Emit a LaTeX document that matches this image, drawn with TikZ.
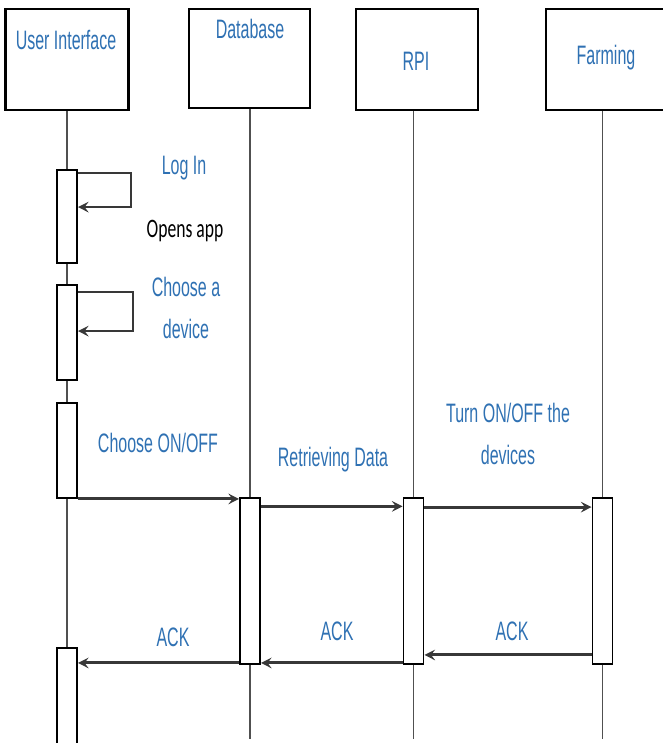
\documentclass[tikz,border=0pt]{standalone}
\usepackage{fontspec}
\setmainfont{Liberation Sans}[FakeStretch=0.6]
\newfontfamily\appfont{Carlito}[FakeStretch=0.66]
\usetikzlibrary{arrows.meta}

\definecolor{lblblue}{HTML}{2F71B3}
\definecolor{msggray}{HTML}{383838}
\definecolor{lifegray}{HTML}{505050}

\tikzset{
  headbox/.style={draw=black, line width=1.6pt, fill=white, inner sep=0pt},
  bar/.style={draw=black, line width=1.4pt, fill=white, minimum width=15pt, inner sep=0pt},
  life/.style={lifegray, line width=1.3pt},
  msg/.style={msggray, line width=2.2pt, -{Stealth[length=8pt, width=8pt, inset=3pt]}},
  lbl/.style={text=lblblue, align=center, inner sep=0pt},
}

\begin{document}
\begin{tikzpicture}[x=0.75pt, y=-0.75pt, font=\fontsize{20}{32}\selectfont]
  \useasboundingbox (0,0) rectangle (663,743);
  \coordinate (bottom) at (0,739);

  % --- kopfboxen ---
  \node[headbox, minimum width=92.25pt, minimum height=75.75pt] (uibox) at (67,59.5) {};
  \node[headbox, minimum width=90.75pt, minimum height=74.25pt] (dbbox) at (249.5,58.5) {};
  \node[headbox, minimum width=91.5pt, minimum height=75.75pt] (rpibox) at (417,59.5) {};
  \node[headbox, minimum width=90pt, minimum height=75.75pt] (farmbox) at (606,59.5) {};
  \node[lbl] (uilbl) at (66,40) {User Interface};
  \node[lbl] (dblbl) at (250,29) {Database};
  \node[lbl] (rpilbl) at (416,61) {RPI};
  \node[lbl] (farmlbl) at (606,58) {Farming};

  % --- aktivierungen ---
  \node[bar, minimum height=69.75pt] (ui1) at (67,216.5) {};
  \node[bar, minimum height=71.25pt] (ui2) at (67,332.5) {};
  \node[bar, minimum height=71.25pt] (ui3) at (67,450.5) {};
  \node[bar, minimum height=84pt] (ui4) at (67,704) {};
  \node[bar, minimum height=124.5pt] (db1) at (250,581) {};
  \node[bar, minimum height=124.5pt] (rpi1) at (413.5,581) {};
  \node[bar, minimum height=124.5pt] (farm1) at (602.5,581) {};

  % --- lebenslinien ---
  \draw[life] (uibox.south) -- (ui1.north);
  \draw[life] (ui1.south) -- (ui2.north);
  \draw[life] (ui2.south) -- (ui3.north);
  \draw[life] (ui3.south) -- (ui4.north);
  \draw[life] (db1.north |- dbbox.south) -- (db1.north);
  \draw[life] (db1.south) -- (db1.south |- bottom);
  \draw[life] (rpi1.north |- rpibox.south) -- (rpi1.north);
  \draw[life] (rpi1.south) -- (rpi1.south |- bottom);
  \draw[life] (farm1.north |- farmbox.south) -- (farm1.north);
  \draw[life] (farm1.south) -- (farm1.south |- bottom);

  % --- nachrichten ---
  \draw[msg, line width=1.8pt] ([yshift=-3pt]ui1.north east) -- ++(53,0) |- ([yshift=-28.5pt]ui1.north east);
  \node[lbl] (login) at (184,168) {Log In};
  \node[inner sep=0pt] (opens) at (185,231) {\appfont\fontsize{20}{22}\selectfont Opens app};

  \draw[msg, line width=1.8pt] ([yshift=-6pt]ui2.north east) -- ++(55,0) |- ([yshift=-35.25pt]ui2.north east);
  \node[lbl] (choosedev) at (186,308) {Choose a\\device};

  \draw[msg] (ui3.south east) -- (ui3.south east -| db1.west);
  \node[lbl] (onoff) at (158,443) {Choose ON/OFF};

  \coordinate (m2) at ([yshift=-7pt]db1.north east);
  \draw[msg] (m2) -- (m2 -| rpi1.west);
  \node[lbl] (retr) at (333,460) {Retrieving Data};

  \coordinate (m3) at ([yshift=-7.5pt]rpi1.north east);
  \draw[msg] (m3) -- (m3 -| farm1.west);
  \node[lbl] (turn) at (508,434) {Turn ON/OFF the\\devices};

  \coordinate (a1) at ([yshift=7.5pt]farm1.south west);
  \draw[msg] (a1) -- (a1 -| rpi1.east);
  \node[lbl] (ack1) at (512,631) {ACK};

  \coordinate (a2) at ([yshift=1.5pt]rpi1.south west);
  \draw[msg] (a2) -- (a2 -| db1.east);
  \node[lbl] (ack2) at (337,631) {ACK};

  \coordinate (a3) at ([yshift=1.5pt]db1.south west);
  \draw[msg] (a3) -- (a3 -| ui4.east);
  \node[lbl] (ack3) at (173,637) {ACK};
\end{tikzpicture}
\end{document}
